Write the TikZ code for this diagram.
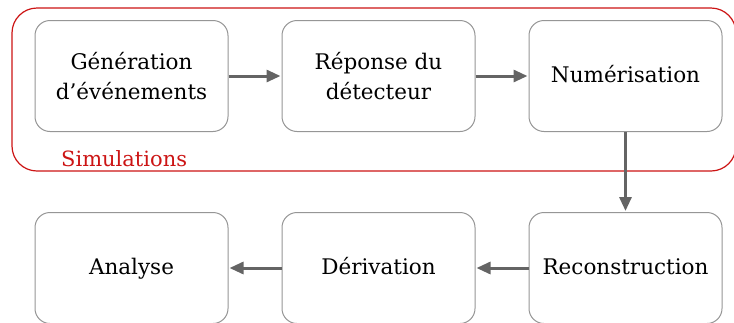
\documentclass[tikz,border=0pt]{standalone}
\usepackage{fontspec}
\setmainfont{DejaVu Serif}
\usetikzlibrary{arrows.meta}
\definecolor{simred}{RGB}{204,20,20}
\definecolor{boxgray}{RGB}{150,150,150}
\definecolor{arrgray}{RGB}{100,100,100}
\tikzset{
  stagebox/.style={draw=boxgray, line width=1pt, rounded corners=15pt, minimum width=193pt, minimum height=111pt, align=center, inner sep=0pt, font=\fontsize{21.5}{29.5}\selectfont, fill=white},
  oneline/.style={text height=17pt, text depth=3.5pt},
  flow/.style={draw=arrgray, line width=3pt, -{Triangle[length=14pt,width=12pt]}, shorten >=1pt}
}
\begin{document}
\begin{tikzpicture}[x=1pt,y=-1pt]
\useasboundingbox (0,0) rectangle (734,322);
\node[draw=simred, line width=1.2pt, rounded corners=25pt, minimum width=724pt, minimum height=163pt, inner sep=0pt] (sim) at (374,89.5) {};
\node[text=simred, font=\fontsize{21}{24}\selectfont, anchor=base west, inner sep=0pt] (simlbl) at (61,166) {Simulations};
\node[stagebox] (gen) at (131.5,76) {Génération\\d'événements};
\node[stagebox] (rep) at (378.5,76) {Réponse du\\détecteur};
\node[stagebox, oneline] (num) at (625.5,76) {Numérisation};
\node[stagebox, oneline] (rec) at (625.5,268) {Reconstruction};
\node[stagebox, oneline] (der) at (378.5,268) {Dérivation};
\node[stagebox, oneline] (ana) at (131.5,268) {Analyse};
\draw[flow] (gen) -- (rep);
\draw[flow] (rep) -- (num);
\draw[flow] (num) -- (rec);
\draw[flow] (rec) -- (der);
\draw[flow] (der) -- (ana);
\end{tikzpicture}
\end{document}
